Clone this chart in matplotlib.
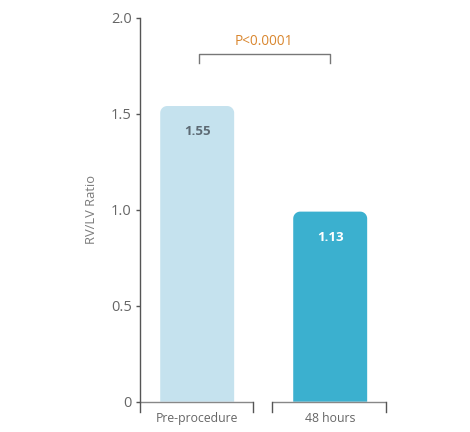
import matplotlib
matplotlib.use("Agg")
import numpy as np
import matplotlib.pyplot as plt
from matplotlib.patches import Polygon

categories = ["Pre-procedure", "48 hours"]
bar_heights = [1.54, 0.99]
bar_labels = ["1.55", "1.13"]
bar_colors = ["#c5e2ee", "#3bb0cf"]
label_colors = ["#5d6a74", "#ffffff"]
yticks = [0, 0.5, 1.0, 1.5, 2.0]
ytick_labels = ["0", "0.5", "1.0", "1.5", "2.0"]
p_text = "P<0.0001"

plt.rcParams['font.family'] = ['Open Sans', 'DejaVu Sans']

fig = plt.figure(figsize=(4.70, 4.32), dpi=100)
ax = fig.add_axes([140/470, 30.3/432, 256.7/470, 384/432])
ax.set_xlim(-0.43, 1.5)
ax.set_ylim(0, 2.0)

bw = 0.556
xu = 1.93/256.7
yu = 2.0/384
rad_px = 7
rx, ry = rad_px*xu, rad_px*yu
t = np.linspace(0, np.pi/2, 20)


def top_rounded(x0, w, h):
    left = np.column_stack([x0 + rx - rx*np.cos(t), h - ry + ry*np.sin(t)])
    right = np.column_stack([x0 + w - rx + rx*np.sin(t), h - ry + ry*np.cos(t)])
    pts = np.vstack([[[x0, 0]], left, right, [[x0 + w, 0]]])
    return pts


for i, (h, c) in enumerate(zip(bar_heights, bar_colors)):
    x0 = i - bw/2
    ax.add_patch(Polygon(top_rounded(x0, bw, h), closed=True, fc=c, ec='none', zorder=2))
    ax.text(i, h - 25.5*yu, bar_labels[i], ha='center', va='center',
            fontsize=9.5, fontweight='bold', color=label_colors[i], zorder=3)

for s in ['top', 'right', 'bottom']:
    ax.spines[s].set_visible(False)
ax.spines['left'].set_color('#555555')
ax.spines['left'].set_linewidth(1.0)
ax.set_yticks(yticks)
ax.set_yticklabels(ytick_labels)
ax.tick_params(axis='y', length=3, width=1, color='#555555', labelcolor='#666666',
               labelsize=10.5, pad=3)
ax.set_xticks([])
ax.set_ylabel("RV/LV Ratio", color='#7a7a7a', fontsize=9.3, labelpad=9)

brackets = [(-0.43, 0.42), (0.56, 1.42)]
tick_h = 10*yu
for (a, b), cat, i in zip(brackets, categories, range(2)):
    ax.plot([a, b], [0, 0], color='#888888', lw=1.0, clip_on=False, zorder=4,
            solid_capstyle='butt')
    ax.plot([a, a], [0, -tick_h], color='#555555', lw=1.0, clip_on=False, zorder=4)
    ax.plot([b, b], [0, -tick_h], color='#555555', lw=1.0, clip_on=False, zorder=4)
    ax.text(i, -17*yu, cat, ha='center', va='center', fontsize=8.8,
            color='#666666', clip_on=False)

yb = (401.7 - 54)*yu
ax.plot([0.01, 0.01, 1.0, 1.0], [yb - 9*yu, yb, yb, yb - 9*yu],
        color='#777777', lw=1.0, zorder=4)
ax.text(0.505, yb + 13*yu, p_text, ha='center', va='center', fontsize=9.8,
        color='#d9862e')

fig.savefig("out.png", dpi=100)
